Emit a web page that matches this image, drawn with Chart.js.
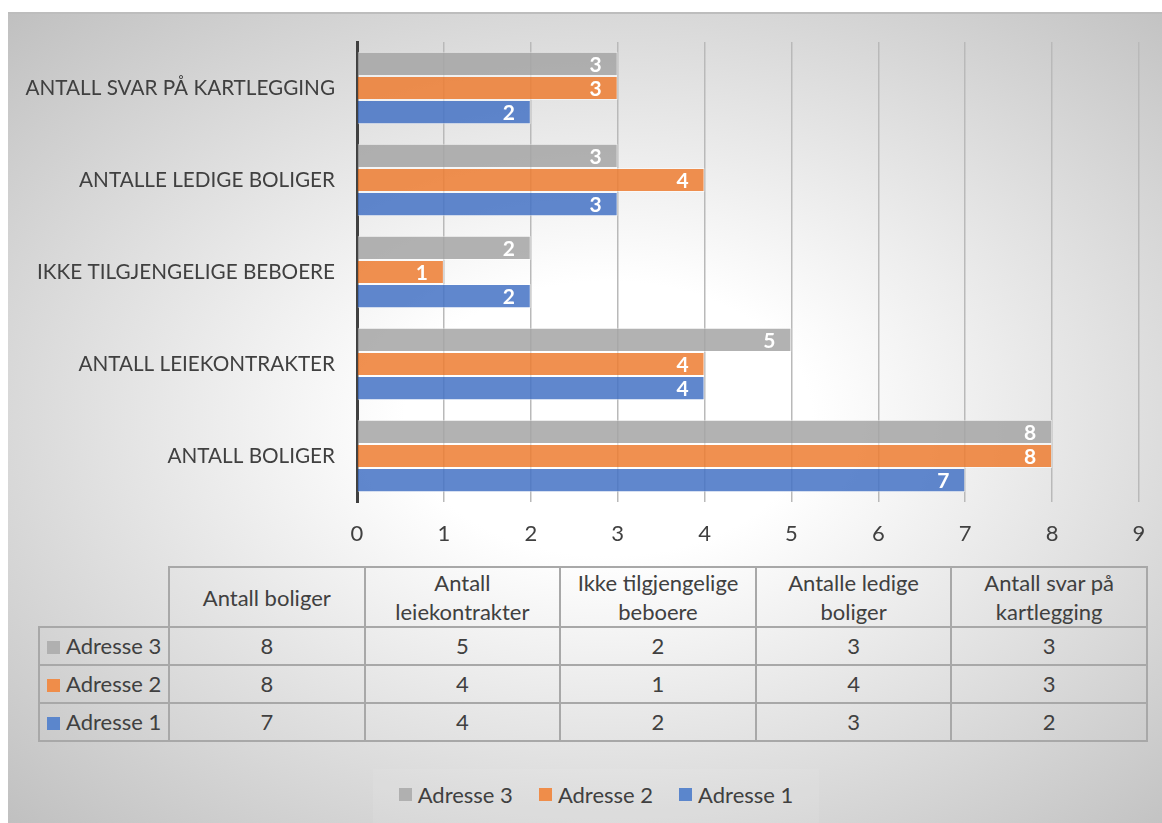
<!DOCTYPE html>
<html>
<head>
<meta charset="utf-8">
<script src="https://cdn.jsdelivr.net/npm/chart.js@4"></script>
<style>
  html, body { margin: 0; padding: 0; background: #ffffff; }
  body { width: 1162px; height: 823px; position: relative; overflow: hidden; font-family: Lato, "Open Sans", sans-serif; }
  #frame {
    position: absolute; left: 8px; top: 12px; width: 1154px; height: 811px;
    box-sizing: border-box; border-top: 2px solid #bdbdbd;
    background: radial-gradient(ellipse farthest-corner at 52% 50%, #ffffff 0%, #ffffff 24%, #c0c0c0 100%);
  }
  #chartBox { position: absolute; left: 0; top: -2px; width: 1154px; height: 548px; }
  #dataTable {
    position: absolute; left: 30px; top: 552px;
    border-collapse: collapse; table-layout: fixed;
    color: #404040; font-size: 22px;
  }
  #dataTable td, #dataTable th {
    border: 2px solid #a8a8a8; text-align: center; padding: 0; font-weight: normal;
  }
  #dataTable th { height: 57px; line-height: 29px; }
  #dataTable td { height: 36px; line-height: 36px; }
  #dataTable th.empty { border-top: none; border-left: none; }
  #dataTable td.rowlab { text-align: left; padding-left: 7px; white-space: nowrap; }
  .sw { display: inline-block; width: 13px; height: 13px; margin-right: 6px; vertical-align: 0px; }
  #legend {
    position: absolute; left: 365px; top: 755px; width: 446px; height: 56px;
    display: flex; align-items: flex-start; justify-content: center; gap: 26px;
    padding-top: 12px; box-sizing: border-box;
    color: #404040; font-size: 22px; background: rgba(255,255,255,0.08);
  }
  #legend .it { display: flex; align-items: center; white-space: nowrap; }
</style>
</head>
<body>
<div id="frame">
  <div id="chartBox"><canvas id="c"></canvas></div>
  <table id="dataTable"></table>
  <div id="legend"></div>
</div>
<script>
// ---- data ----
const categories = ['Antall boliger', 'Antall leiekontrakter', 'Ikke tilgjengelige beboere', 'Antalle ledige boliger', 'Antall svar på kartlegging'];
const tableHeaderLines = [['Antall boliger'], ['Antall', 'leiekontrakter'], ['Ikke tilgjengelige', 'beboere'], ['Antalle ledige', 'boliger'], ['Antall svar på', 'kartlegging']];
const seriesNames = ['Adresse 3', 'Adresse 2', 'Adresse 1'];
const adresse3 = [8, 5, 2, 3, 3];
const adresse2 = [8, 4, 1, 4, 3];
const adresse1 = [7, 4, 2, 3, 2];
const xTicks = [0, 1, 2, 3, 4, 5, 6, 7, 8, 9];

// ---- styles ----
const fills = ['rgba(165,165,165,0.85)', 'rgba(237,125,49,0.85)', 'rgba(68,114,196,0.85)'];
const swatch = ['#b0b0b0', '#ef8d4a', '#5b86cc'];
const FONT = 'Lato, "Open Sans", sans-serif';
const TEXT = '#404040';

const seriesValues = [adresse3, adresse2, adresse1];

const valueLabels = {
  id: 'valueLabels',
  afterDatasetsDraw(chart) {
    const ctx = chart.ctx;
    ctx.save();
    ctx.font = 'bold 21px ' + FONT;
    ctx.fillStyle = '#ffffff';
    ctx.textAlign = 'center';
    ctx.textBaseline = 'middle';
    chart.data.datasets.forEach((ds, i) => {
      const meta = chart.getDatasetMeta(i);
      meta.data.forEach((el, j) => {
        ctx.fillText(String(ds.data[j]), el.x - 22, el.y + 1);
      });
    });
    ctx.restore();
  }
};

function noScalePadding(scale) {
  scale.paddingTop = 0; scale.paddingBottom = 0; scale.paddingLeft = 0; scale.paddingRight = 0;
}

new Chart(document.getElementById('c'), {
  type: 'bar',
  data: {
    labels: categories,
    datasets: seriesNames.map((n, i) => ({
      label: n,
      data: seriesValues[i],
      backgroundColor: fills[i],
      borderColor: 'rgba(255,255,255,0.55)',
      borderWidth: 1,
      categoryPercentage: 0.79,
      barPercentage: 1.0
    }))
  },
  options: {
    indexAxis: 'y',
    responsive: true,
    maintainAspectRatio: false,
    animation: false,
    layout: { padding: { top: 30, right: 23, left: 0, bottom: 0 } },
    plugins: { legend: { display: false }, tooltip: { enabled: false } },
    scales: {
      x: {
        min: xTicks[0], max: xTicks[xTicks.length - 1],
        afterBuildTicks(scale) { scale.ticks = xTicks.map(v => ({ value: v })); },
        afterFit(scale) { scale.height = 58; noScalePadding(scale); },
        grid: { color: '#b9b9b9', lineWidth: 1.5, drawTicks: false },
        border: { display: false },
        ticks: { color: TEXT, font: { family: FONT, size: 22 }, padding: 19 }
      },
      y: {
        reverse: true,
        afterFit(scale) { scale.width = 349; noScalePadding(scale); },
        grid: { display: false, drawTicks: false },
        border: { display: true, color: '#404040', width: 3 },
        ticks: {
          color: TEXT, font: { family: FONT, size: 20.7 }, padding: 22,
          callback(v) { return this.getLabelForValue(v).toUpperCase(); }
        }
      }
    }
  },
  plugins: [valueLabels]
});

// ---- data table ----
const table = document.getElementById('dataTable');
let html = '<colgroup><col style="width:130px">' + categories.map(() => '<col style="width:195.6px">').join('') + '</colgroup>';
html += '<tr><th class="empty"></th>' + tableHeaderLines.map(l => '<th>' + l.join('<br>') + '</th>').join('') + '</tr>';
seriesNames.forEach((n, i) => {
  html += '<tr><td class="rowlab"><span class="sw" style="background:' + swatch[i] + '"></span>' + n + '</td>' +
    seriesValues[i].map(v => '<td>' + v + '</td>').join('') + '</tr>';
});
table.innerHTML = html;

// ---- legend ----
const legend = document.getElementById('legend');
legend.innerHTML = seriesNames
  .map((n, i) => '<div class="it"><span class="sw" style="background:' + swatch[i] + '"></span>' + n + '</div>').join('');
</script>
</body>
</html>
